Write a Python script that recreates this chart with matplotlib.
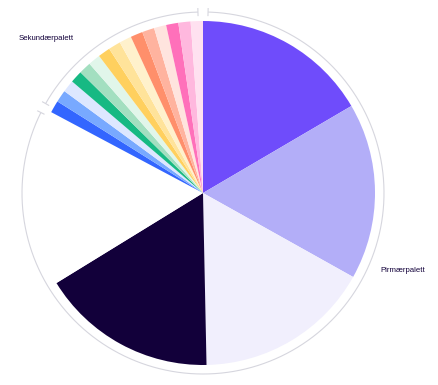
import numpy as np
import matplotlib.pyplot as plt

# primary palette slices (clockwise from 12 o'clock), degrees
prim_vals = [59.6, 59.6, 59.6, 59.6, 59.6]
prim_cols = ['#6F4CFB', '#B3AEF8', '#F1EFFD', '#12003A', '#FFFFFF']

# secondary palette slices (blue, green, yellow, orange, pink groups)
sec_vals = [4.13] * 15
sec_cols = ['#3366FF', '#78A9FF', '#DDE7FF',
            '#17B983', '#A3DFC0', '#E1F6EA',
            '#FFD05E', '#FFE39A', '#FFF1CC',
            '#FF8F6B', '#FFB39F', '#FFE4DE',
            '#FF70BA', '#FFB8DE', '#FFE1F0']

labels = ['Pirmærpalett', 'Sekundærpalett']

cx, cy, r = 203, 192, 172   # pie centre / radius in pixels
ring_r = 181
ring_col = '#D6D6DE'

fig = plt.figure(figsize=(4.38, 3.85), dpi=100)
ax = fig.add_axes([0, 0, 1, 1])
ax.axis('off')

ax.pie(prim_vals + sec_vals, colors=prim_cols + sec_cols, startangle=90,
       counterclock=False, center=(cx, cy), radius=r,
       wedgeprops=dict(linewidth=0))
ax.set_xlim(0, 438)
ax.set_ylim(0, 385)
ax.set_aspect('equal')

# outer ring arcs with end ticks
split = 90 - sum(prim_vals)  # boundary angle between the two groups
gap = 1.6
prim_arc = (split + gap, 90 - gap)
sec_arc = (90 + gap, split + 360 - gap)
for a0, a1 in [prim_arc, sec_arc]:
    t = np.radians(np.linspace(a0, a1, 300))
    ax.plot(cx + ring_r * np.cos(t), cy + ring_r * np.sin(t),
            color=ring_col, lw=0.8, solid_capstyle='butt')
    for a in (a0, a1):
        ta = np.radians(a)
        ax.plot([cx + (ring_r - 3.5) * np.cos(ta), cx + (ring_r + 3.5) * np.cos(ta)],
                [cy + (ring_r - 3.5) * np.sin(ta), cy + (ring_r + 3.5) * np.sin(ta)],
                color=ring_col, lw=0.8)

ax.text(380, 385 - 271, labels[0], fontsize=5.6, color='#12003A',
        family='Liberation Sans', va='center', ha='left')
ax.text(19, 385 - 38, labels[1], fontsize=5.6, color='#12003A',
        family='Liberation Sans', va='center', ha='left')

fig.savefig('out.png', dpi=100)
